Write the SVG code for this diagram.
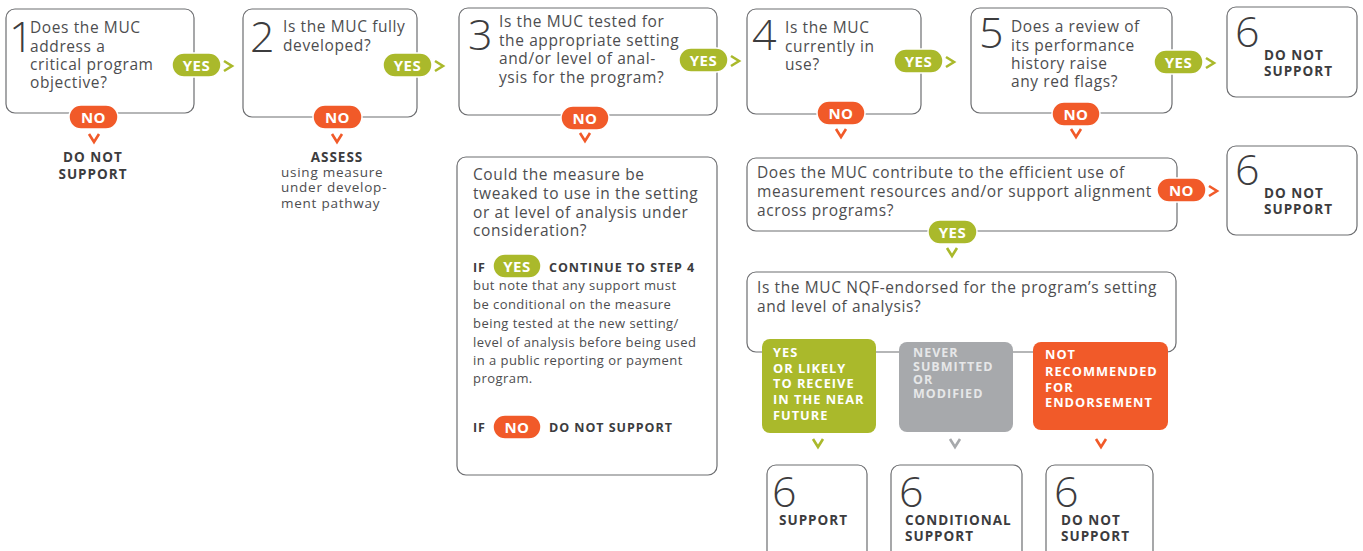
<svg xmlns="http://www.w3.org/2000/svg" width="1363" height="551" viewBox="0 0 1363 551">
<style>
.box{fill:#fff;stroke:#6d6e71;stroke-width:1.2}
.num{font-family:"Open Sans","Liberation Sans",sans-serif;font-weight:300;font-size:43px;fill:#3c3c3e}
.q{font-family:"Open Sans","Liberation Sans",sans-serif;font-size:15.5px;letter-spacing:0.6px;fill:#4d4d4f}
.s{font-family:"Open Sans","Liberation Sans",sans-serif;font-size:13px;letter-spacing:0.45px;fill:#4d4d4f}
.s2{font-family:"Open Sans","Liberation Sans",sans-serif;font-size:13.5px;letter-spacing:0.75px;fill:#4d4d4f}
.b{font-family:"Open Sans","Liberation Sans",sans-serif;font-weight:700;font-size:13.5px;letter-spacing:1px;fill:#3c3c3e}
.bs{font-family:"Open Sans","Liberation Sans",sans-serif;font-weight:700;font-size:12.5px;letter-spacing:0.95px;fill:#3c3c3e}
.yes{fill:#aab92b;stroke:#fff;stroke-width:1.5}
.no{fill:#f15a29;stroke:#fff;stroke-width:1.5}
.pt{font-family:"Open Sans","Liberation Sans",sans-serif;font-weight:700;font-size:15px;letter-spacing:0.5px;fill:#fff;text-anchor:middle}
.cg{fill:none;stroke:#aab92b;stroke-width:2.6}
.co{fill:none;stroke:#f15a29;stroke-width:2.6}
.cy{fill:none;stroke:#a7a9ac;stroke-width:2.6}
.wt{font-family:"Open Sans","Liberation Sans",sans-serif;font-weight:700;font-size:12.8px;letter-spacing:1px;fill:#fff}
.gt{font-family:"Open Sans","Liberation Sans",sans-serif;font-weight:700;font-size:12.5px;letter-spacing:1px;fill:#e6e7e8}
</style>
<rect width="1363" height="551" fill="#fff"/>

<g id="step1">
<rect class="box" x="6" y="9" width="188" height="104" rx="9"/>
<text class="num" x="9" y="52">1</text>
<text class="q" x="30"><tspan x="30" y="33">Does the MUC</tspan><tspan x="30" y="52">address a</tspan><tspan x="30" y="70">critical program</tspan><tspan x="30" y="88">objective?</tspan></text>
</g>
<g id="step1-no-result">
<text class="b" text-anchor="middle"><tspan x="93" y="162">DO NOT</tspan><tspan x="93" y="179">SUPPORT</tspan></text>
</g>

<g id="step2">
<rect class="box" x="243" y="9" width="174" height="108" rx="9"/>
<text class="num" x="250" y="52">2</text>
<text class="q"><tspan x="283" y="32">Is the MUC fully</tspan><tspan x="283" y="51">developed?</tspan></text>
</g>
<g id="step2-no-result">
<text class="b" x="337" y="162" text-anchor="middle">ASSESS</text>
<text class="s2"><tspan x="281" y="177">using measure</tspan><tspan x="281" y="192">under develop-</tspan><tspan x="281" y="208">ment pathway</tspan></text>
</g>

<g id="step3">
<rect class="box" x="459" y="8" width="258" height="107" rx="9"/>
<text class="num" x="468" y="50">3</text>
<text class="q"><tspan x="499" y="27">Is the MUC tested for</tspan><tspan x="499" y="46">the appropriate setting</tspan><tspan x="499" y="64">and/or level of anal-</tspan><tspan x="499" y="83">ysis for the program?</tspan></text>
</g>

<g id="step3-tweak">
<rect class="box" x="457" y="157" width="260" height="318" rx="9"/>
<text class="q"><tspan x="473" y="180">Could the measure be</tspan><tspan x="473" y="199">tweaked to use in the setting</tspan><tspan x="473" y="218">or at level of analysis under</tspan><tspan x="473" y="236">consideration?</tspan></text>
<text class="bs" x="473" y="272">IF</text>
<text class="bs" x="549" y="272">CONTINUE TO STEP 4</text>
<text class="s"><tspan x="473" y="290">but note that any support must</tspan><tspan x="473" y="309">be conditional on the measure</tspan><tspan x="473" y="328">being tested at the new setting/</tspan><tspan x="473" y="347">level of analysis before being used</tspan><tspan x="473" y="365">in a public reporting or payment</tspan><tspan x="473" y="383">program.</tspan></text>
<text class="bs" x="473" y="432">IF</text>
<text class="bs" x="549" y="432">DO NOT SUPPORT</text>
</g>

<g id="step4">
<rect class="box" x="747" y="9" width="174" height="105" rx="9"/>
<text class="num" x="752" y="50">4</text>
<text class="q"><tspan x="785" y="33">Is the MUC</tspan><tspan x="785" y="52">currently in</tspan><tspan x="785" y="70">use?</tspan></text>
</g>

<g id="step5">
<rect class="box" x="971" y="8" width="201" height="105" rx="9"/>
<text class="num" x="979" y="48">5</text>
<text class="q"><tspan x="1011" y="32">Does a review of</tspan><tspan x="1011" y="51">its performance</tspan><tspan x="1011" y="69">history raise</tspan><tspan x="1011" y="87">any red flags?</tspan></text>
</g>

<g id="result-6a">
<rect class="box" x="1227" y="7" width="130" height="90" rx="9"/>
<text class="num" x="1235" y="47">6</text>
<text class="b"><tspan x="1264" y="60">DO NOT</tspan><tspan x="1264" y="76">SUPPORT</tspan></text>
</g>

<g id="contribute">
<rect class="box" x="747" y="158" width="430" height="73" rx="9"/>
<text class="q"><tspan x="757" y="178">Does the MUC contribute to the efficient use of</tspan><tspan x="757" y="197">measurement resources and/or support alignment</tspan><tspan x="757" y="216">across programs?</tspan></text>
</g>

<g id="result-6b">
<rect class="box" x="1227" y="146" width="130" height="89" rx="9"/>
<text class="num" x="1235" y="185">6</text>
<text class="b"><tspan x="1264" y="198">DO NOT</tspan><tspan x="1264" y="214">SUPPORT</tspan></text>
</g>

<g id="nqf">
<rect class="box" x="747" y="272" width="429" height="80" rx="9"/>
<text class="q"><tspan x="757" y="293">Is the MUC NQF-endorsed for the program’s setting</tspan><tspan x="757" y="312">and level of analysis?</tspan></text>
</g>

<g id="nqf-yes">
<rect x="762" y="339" width="114" height="94" rx="8" fill="#aab92b"/>
<text class="wt"><tspan x="773" y="357">YES</tspan><tspan x="773" y="373">OR LIKELY</tspan><tspan x="773" y="388">TO RECEIVE</tspan><tspan x="773" y="404">IN THE NEAR</tspan><tspan x="773" y="420">FUTURE</tspan></text>
</g>
<g id="nqf-never">
<rect x="899" y="342" width="114" height="90" rx="8" fill="#a7a9ac"/>
<text class="gt"><tspan x="913" y="357">NEVER</tspan><tspan x="913" y="371">SUBMITTED</tspan><tspan x="913" y="384">OR</tspan><tspan x="913" y="398">MODIFIED</tspan></text>
</g>
<g id="nqf-not">
<rect x="1033" y="342" width="135" height="88" rx="8" fill="#f15a29"/>
<text class="wt"><tspan x="1045" y="359">NOT</tspan><tspan x="1045" y="376">RECOMMENDED</tspan><tspan x="1045" y="392">FOR</tspan><tspan x="1045" y="407">ENDORSEMENT</tspan></text>
</g>

<g id="result-support">
<rect class="box" x="767" y="465" width="100" height="110" rx="9"/>
<text class="num" x="772" y="507">6</text>
<text class="b" x="779" y="525">SUPPORT</text>
</g>
<g id="result-conditional">
<rect class="box" x="891" y="465" width="131" height="110" rx="9"/>
<text class="num" x="899" y="507">6</text>
<text class="b"><tspan x="905" y="525">CONDITIONAL</tspan><tspan x="905" y="541">SUPPORT</tspan></text>
</g>
<g id="result-donot">
<rect class="box" x="1046" y="465" width="107" height="110" rx="9"/>
<text class="num" x="1054" y="507">6</text>
<text class="b"><tspan x="1061" y="525">DO NOT</tspan><tspan x="1061" y="541">SUPPORT</tspan></text>
</g>

<g id="connectors">
<g id="pills">
<rect class="yes" x="172" y="53" width="49" height="24" rx="12"/><text class="pt" x="196.5" y="70.5">YES</text>
<rect class="yes" x="383" y="53" width="49" height="24" rx="12"/><text class="pt" x="407.5" y="70.5">YES</text>
<rect class="yes" x="679" y="48" width="49" height="24" rx="12"/><text class="pt" x="703.5" y="65.5">YES</text>
<rect class="yes" x="894" y="49" width="49" height="24" rx="12"/><text class="pt" x="918.5" y="66.5">YES</text>
<rect class="yes" x="1154" y="50" width="49" height="24" rx="12"/><text class="pt" x="1178.5" y="67.5">YES</text>
<rect class="yes" x="928" y="220" width="49" height="24" rx="12"/><text class="pt" x="952.5" y="237.5">YES</text>
<rect class="yes" x="493" y="254" width="48" height="24" rx="12"/><text class="pt" x="517" y="271.5">YES</text>
<rect class="no" x="69" y="105" width="49" height="24" rx="12"/><text class="pt" x="93.5" y="122.5">NO</text>
<rect class="no" x="313" y="105" width="49" height="24" rx="12"/><text class="pt" x="337.5" y="122.5">NO</text>
<rect class="no" x="561" y="106" width="48" height="24" rx="12"/><text class="pt" x="585" y="123.5">NO</text>
<rect class="no" x="817" y="101" width="48" height="24" rx="12"/><text class="pt" x="841" y="118.5">NO</text>
<rect class="no" x="1052" y="102" width="48" height="24" rx="12"/><text class="pt" x="1076" y="119.5">NO</text>
<rect class="no" x="1157" y="178" width="49" height="24" rx="12"/><text class="pt" x="1181.5" y="195.5">NO</text>
<rect class="no" x="493" y="415" width="48" height="24" rx="12"/><text class="pt" x="517" y="432.5">NO</text>
</g>
<g id="chevrons">
<polyline class="cg" points="224,61 232,66 224,71"/>
<polyline class="cg" points="435,61 443,66 435,71"/>
<polyline class="cg" points="731,56 739,61 731,66"/>
<polyline class="cg" points="946,57 954,62 946,67"/>
<polyline class="cg" points="1206,58 1214,63 1206,68"/>
<polyline class="co" points="1209,186 1217,191 1209,196"/>
<polyline class="co" points="89,134 94,142 99,134"/>
<polyline class="co" points="332,134 337,142 342,134"/>
<polyline class="co" points="580,133 585,141 590,133"/>
<polyline class="co" points="836,129 841,137 846,129"/>
<polyline class="co" points="1071,129 1076,137 1081,129"/>
<polyline class="cg" points="947,248 952,256 957,248"/>
<polyline class="cg" points="813,439 818,447 823,439"/>
<polyline class="cy" points="950,439 955,447 960,439"/>
<polyline class="co" points="1096,439 1101,447 1106,439"/>
</g>
</g>
</svg>
